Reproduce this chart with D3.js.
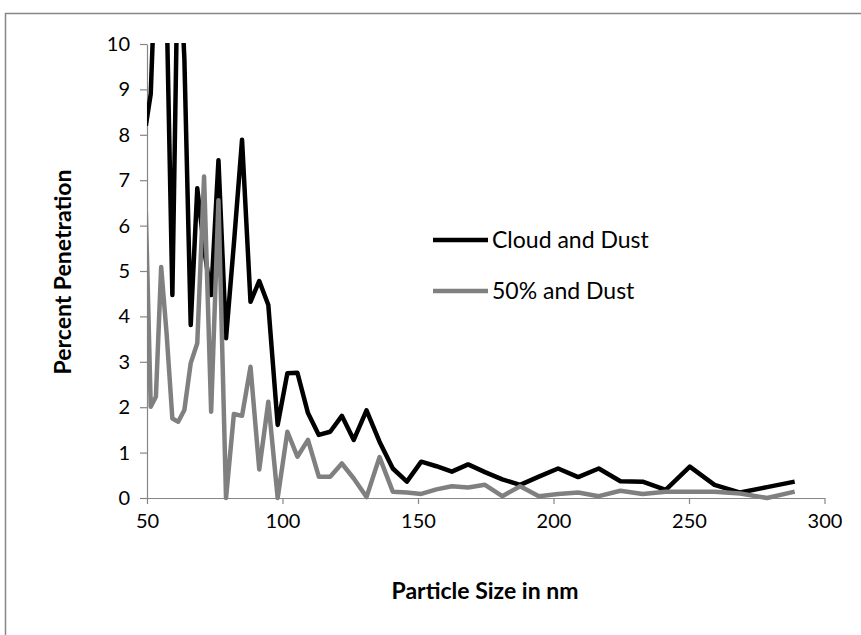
<!DOCTYPE html>
<html>
<head>
<meta charset="utf-8">
<script src="https://cdn.jsdelivr.net/npm/d3@7"></script>
<style>
  body { margin: 0; background: #fff; }
  text { font-family: Lato, "Open Sans", sans-serif; fill: #000; }
</style>
</head>
<body>
<script>
// Particle size channels (nm)
var sizes = [49.57, 51.38, 53.28, 55.23, 57.26, 59.36, 61.52, 63.79, 66.13, 68.55,
             71.06, 73.67, 76.37, 79.16, 82.06, 85.07, 88.19, 91.42, 94.77, 98.22,
             101.8, 105.5, 109.4, 113.4, 117.6, 121.9, 126.3, 131.0, 135.8, 140.7,
             145.9, 151.2, 156.8, 162.5, 168.5, 174.7, 181.1, 187.7, 194.6, 201.7,
             209.1, 216.7, 224.7, 232.9, 241.4, 250.3, 259.4, 268.9, 278.8, 289.0];

// Percent penetration, Cloud and Dust
var cloudDust = [8.2, 8.9, 12.0, 13.0, 10.8, 4.47, 12.5, 9.68, 3.81, 6.82,
                 5.5, 4.47, 7.44, 3.52, 5.6, 7.89, 4.32, 4.78, 4.25, 1.61,
                 2.75, 2.76, 1.87, 1.39, 1.46, 1.81, 1.28, 1.93, 1.24, 0.65,
                 0.36, 0.80, 0.70, 0.58, 0.74, 0.57, 0.41, 0.29, 0.47, 0.65,
                 0.46, 0.65, 0.37, 0.36, 0.18, 0.69, 0.29, 0.12, 0.24, 0.36];

// Percent penetration, 50% and Dust
var fiftyDust = [6.3, 2.01, 2.23, 5.09, 3.6, 1.75, 1.68, 1.94, 2.97, 3.41,
                 7.08, 1.90, 6.56, 0.0, 1.85, 1.81, 2.89, 0.63, 2.12, 0.0,
                 1.46, 0.91, 1.28, 0.47, 0.47, 0.76, 0.43, 0.02, 0.90, 0.14,
                 0.12, 0.09, 0.19, 0.26, 0.23, 0.29, 0.04, 0.26, 0.04, 0.09,
                 0.12, 0.04, 0.16, 0.09, 0.14, 0.14, 0.14, 0.10, 0.0, 0.14];

var xTicks = [50, 100, 150, 200, 250, 300];
var yTicks = [0, 1, 2, 3, 4, 5, 6, 7, 8, 9, 10];

var seriesNames = ["Cloud and Dust", "50% and Dust"];
var seriesColors = ["#000000", "#808080"];

var width = 861, height = 635;
var axisColor = "#868686";

var svg = d3.select("body").append("svg")
    .attr("width", width)
    .attr("height", height);

// outer chart frame (cropped at right and bottom in the picture)
svg.append("rect")
    .attr("x", 5.5).attr("y", 13.5)
    .attr("width", 900).attr("height", 700)
    .style("fill", "#fff")
    .style("stroke", axisColor)
    .style("stroke-width", 1.5);

var x = d3.scaleLinear().domain([50, 300]).range([147, 824.5]);
var y = d3.scaleLinear().domain([0, 10]).range([498, 44]);

// axes
var xAxis = d3.axisBottom(x).tickValues(xTicks).tickSize(6).tickSizeOuter(0).tickPadding(5);
var yAxis = d3.axisLeft(y).tickValues(yTicks).tickSize(7).tickSizeOuter(0).tickPadding(10);

var gx = svg.append("g").attr("transform", "translate(0," + y(0) + ")").call(xAxis);
var gy = svg.append("g").attr("transform", "translate(" + x(50) + ",0)").call(yAxis);

[gx, gy].forEach(function(g){
    g.selectAll("path, line").style("stroke", axisColor).style("stroke-width", 1.2);
    g.selectAll("text").style("font-size", "20px").style("fill", "#000");
});
gx.selectAll("text").attr("dy", "0.95em");

// axis titles
svg.append("text")
    .attr("x", 485).attr("y", 599)
    .attr("text-anchor", "middle")
    .style("font-size", "23px")
    .style("font-weight", "bold")
    .text("Particle Size in nm");

svg.append("text")
    .attr("transform", "translate(71,272) rotate(-90)")
    .attr("text-anchor", "middle")
    .style("font-size", "23px")
    .style("font-weight", "bold")
    .text("Percent Penetration");

// clip to plot area
svg.append("clipPath").attr("id", "plot")
    .append("rect")
    .attr("x", x(50)).attr("y", y(10) - 1)
    .attr("width", x(300) - x(50)).attr("height", y(0) - y(10) + 12);

var line = d3.line()
    .x(function(d){ return x(d[0]); })
    .y(function(d){ return y(d[1]); });

var series = [cloudDust, fiftyDust];
var plot = svg.append("g").attr("clip-path", "url(#plot)");

// series drawn in order, gray on top of black
series.forEach(function(vals, i){
    plot.append("path")
        .datum(sizes.map(function(s, j){ return [s, vals[j]]; }))
        .attr("d", line)
        .style("fill", "none")
        .style("stroke", seriesColors[i])
        .style("stroke-width", 4.5)
        .style("stroke-linejoin", "round");
});

// legend
var legend = svg.append("g");
seriesNames.forEach(function(name, i){
    var ly = 240 + i * 51;
    legend.append("line")
        .attr("x1", 433).attr("x2", 488)
        .attr("y1", ly).attr("y2", ly)
        .style("stroke", seriesColors[i])
        .style("stroke-width", 4.5);
    legend.append("text")
        .attr("x", 492).attr("y", ly)
        .attr("dy", "0.35em")
        .style("font-size", "23px")
        .text(name);
});
</script>
</body>
</html>
